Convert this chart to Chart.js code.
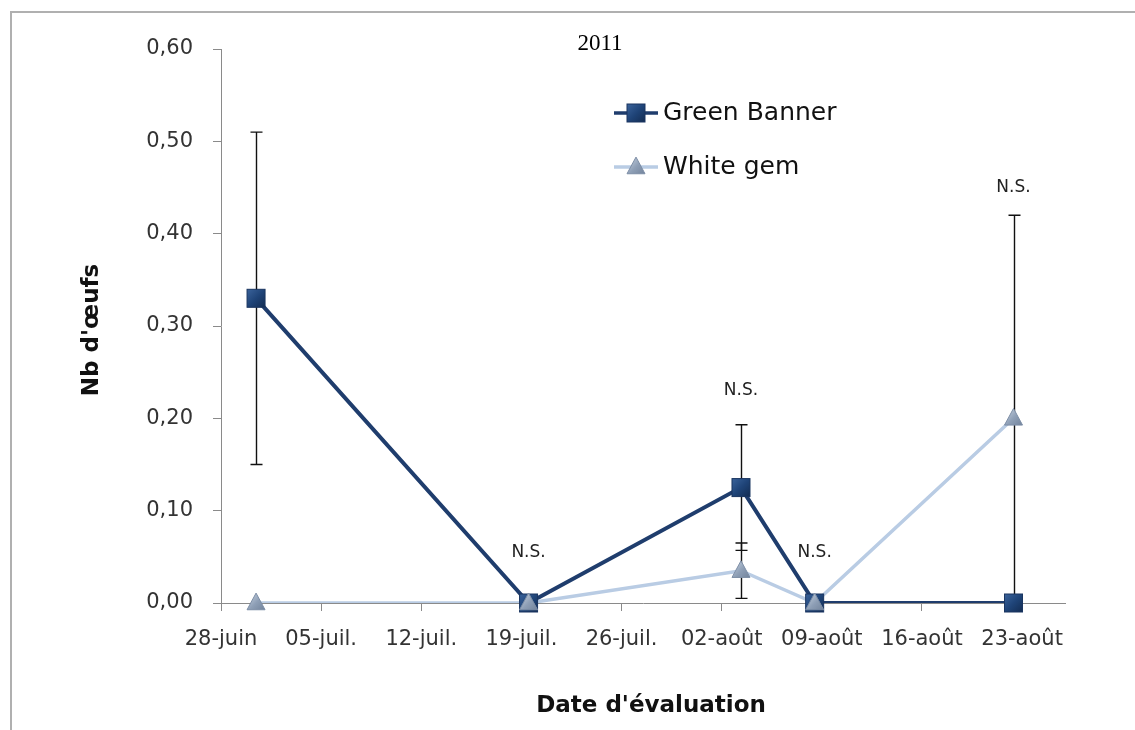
<!DOCTYPE html>
<html>
<head>
<meta charset="utf-8">
<script src="https://cdn.jsdelivr.net/npm/chart.js@4.4.0/dist/chart.umd.min.js"></script>
<style>
  html, body { margin: 0; padding: 0; background: #fff; }
  #wrap { position: relative; width: 1135px; height: 730px; overflow: hidden; }
  #frame { position: absolute; left: 10px; top: 11px; width: 1200px; height: 800px;
           border-top: 2px solid #b0b0b0; border-left: 2px solid #b0b0b0; }
  #chart { position: absolute; left: 0; top: 0; }
</style>
</head>
<body>
<div id="wrap">
  <div id="frame"></div>
  <canvas id="chart" width="1135" height="730"></canvas>
</div>
<script>
// =====================================================
// Data (x = days since 28-juin)
// =====================================================
const sampleDays = [2.45, 21.5, 36.35, 41.5, 55.4];
const greenBanner = [0.33, 0, 0.125, 0, 0];
const greenBannerErr = [0.18, 0, 0.068, 0, 0];
const whiteGem = [0, 0, 0.035, 0, 0.2];
const whiteGemErr = [0, 0, 0.03, 0, 0.22];

// "N.S." marks above some sample dates
const nsDays = [21.5, 36.35, 41.5, 55.4];
const nsValues = [0.055, 0.23, 0.055, 0.45];

// Axis ticks
const xTickDays = [0, 7, 14, 21, 28, 35, 42, 49, 56];
const xTickLabels = ['28-juin', '05-juil.', '12-juil.', '19-juil.', '26-juil.', '02-août', '09-août', '16-août', '23-août'];
const yTicks = [0, 0.1, 0.2, 0.3, 0.4, 0.5, 0.6];

const GB_COLOR = '#1f3d6d';
const WG_COLOR = '#b9cce4';
const FONT = '"DejaVu Sans", sans-serif';

// =====================================================
// Marker painters (square with a bit of shading, triangle)
// =====================================================
function drawSquare(ctx, x, y, s) {
    const g = ctx.createLinearGradient(x - s, y - s, x + s, y + s);
    g.addColorStop(0, '#3a639b');
    g.addColorStop(0.5, '#1f4478');
    g.addColorStop(1, '#132c52');
    ctx.fillStyle = g;
    ctx.fillRect(x - s, y - s, 2 * s, 2 * s);
    ctx.strokeStyle = '#1a3560';
    ctx.lineWidth = 1;
    ctx.strokeRect(x - s, y - s, 2 * s, 2 * s);
}

function drawTriangle(ctx, x, y, s) {
    const g = ctx.createLinearGradient(x - s, y - s, x + s, y + s);
    g.addColorStop(0, '#c9d4e2');
    g.addColorStop(0.5, '#8e9fb6');
    g.addColorStop(1, '#6f8098');
    ctx.fillStyle = g;
    ctx.beginPath();
    ctx.moveTo(x, y - s * 1.1);
    ctx.lineTo(x + s, y + s * 0.75);
    ctx.lineTo(x - s, y + s * 0.75);
    ctx.closePath();
    ctx.fill();
    ctx.strokeStyle = '#7d8ea6';
    ctx.lineWidth = 1;
    ctx.stroke();
}

// =====================================================
// Plugin: error bars, N.S. labels, title, axis titles, legend
// =====================================================
const decorPlugin = {
    id: 'decor',
    beforeDatasetsDraw(chart) {
        const ctx = chart.ctx;
        const xs = chart.scales.x, ys = chart.scales.y;
        const area = chart.chartArea;
        ctx.save();
        ctx.beginPath();
        ctx.rect(area.left, area.top - 2, area.right - area.left, area.bottom - area.top + 2);
        ctx.clip();
        ctx.strokeStyle = '#111';
        ctx.lineWidth = 1.4;
        const series = [[greenBanner, greenBannerErr], [whiteGem, whiteGemErr]];
        series.forEach(([vals, errs]) => {
            vals.forEach((v, i) => {
                if (!errs[i]) return;
                const px = Math.round(xs.getPixelForValue(sampleDays[i])) + 0.5;
                const top = ys.getPixelForValue(v + errs[i]);
                const bot = ys.getPixelForValue(v - errs[i]);
                ctx.beginPath();
                ctx.moveTo(px, top); ctx.lineTo(px, bot);
                ctx.moveTo(px - 6, top); ctx.lineTo(px + 6, top);
                ctx.moveTo(px - 6, bot); ctx.lineTo(px + 6, bot);
                ctx.stroke();
            });
        });
        ctx.restore();
    },
    afterDatasetsDraw(chart) {
        const ctx = chart.ctx;
        const xs = chart.scales.x, ys = chart.scales.y;
        ctx.save();
        // markers on top of lines
        greenBanner.forEach((v, i) => drawSquare(ctx, xs.getPixelForValue(sampleDays[i]), ys.getPixelForValue(v), 9));
        whiteGem.forEach((v, i) => drawTriangle(ctx, xs.getPixelForValue(sampleDays[i]), ys.getPixelForValue(v), 9));

        // N.S.
        ctx.fillStyle = '#222';
        ctx.font = '17px ' + FONT;
        ctx.textAlign = 'center';
        ctx.textBaseline = 'middle';
        nsDays.forEach((d, i) => ctx.fillText('N.S.', xs.getPixelForValue(d), ys.getPixelForValue(nsValues[i])));

        // chart title
        ctx.fillStyle = '#000';
        ctx.font = '23px "Liberation Serif", "DejaVu Serif", serif';
        ctx.fillText('2011', 600, 44);

        // axis titles
        ctx.font = 'bold 23px ' + FONT;
        ctx.fillStyle = '#111';
        ctx.fillText("Date d'évaluation", 651, 706);
        ctx.save();
        ctx.translate(92, 330);
        ctx.rotate(-Math.PI / 2);
        ctx.fillText("Nb d'œufs", 0, 0);
        ctx.restore();

        // legend
        const legend = [['Green Banner', GB_COLOR, 113, drawSquare], ['White gem', WG_COLOR, 167, drawTriangle]];
        ctx.textAlign = 'left';
        ctx.font = '25px ' + FONT;
        legend.forEach(([label, color, y, marker]) => {
            ctx.strokeStyle = color;
            ctx.lineWidth = 3.5;
            ctx.beginPath();
            ctx.moveTo(614, y); ctx.lineTo(658, y);
            ctx.stroke();
            marker(ctx, 636, y, 9);
            ctx.fillStyle = '#111';
            ctx.fillText(label, 663, y);
        });
        ctx.restore();
    }
};

// =====================================================
// Chart
// =====================================================
const ctx = document.getElementById('chart').getContext('2d');
new Chart(ctx, {
    type: 'line',
    data: {
        datasets: [
            {
                label: 'White gem',
                data: sampleDays.map((d, i) => ({ x: d, y: whiteGem[i] })),
                borderColor: WG_COLOR,
                borderWidth: 3.5,
                pointRadius: 0,
                tension: 0
            },
            {
                label: 'Green Banner',
                data: sampleDays.map((d, i) => ({ x: d, y: greenBanner[i] })),
                borderColor: GB_COLOR,
                borderWidth: 4,
                pointRadius: 0,
                tension: 0
            }
        ]
    },
    options: {
        responsive: false,
        animation: false,
        layout: { padding: { top: 49, right: 70, left: 0, bottom: 0 } },
        plugins: { legend: { display: false }, tooltip: { enabled: false }, title: { display: false } },
        scales: {
            x: {
                type: 'linear',
                min: 0,
                max: 59,
                afterBuildTicks: scale => { scale.ticks = xTickDays.map(v => ({ value: v })); },
                afterFit: scale => { scale.height = 127; },
                ticks: {
                    autoSkip: false,
                    maxRotation: 0,
                    padding: 16,
                    color: '#333',
                    font: { family: FONT, size: 21 },
                    callback: (v, i) => xTickLabels[i]
                },
                grid: { drawOnChartArea: false, drawTicks: true, tickLength: 8, color: '#8a8a8a' },
                border: { display: true, color: '#8a8a8a', width: 1 }
            },
            y: {
                min: 0,
                max: 0.6,
                afterBuildTicks: scale => { scale.ticks = yTicks.map(v => ({ value: v })); },
                afterFit: scale => { scale.width = 221; },
                ticks: {
                    padding: 20,
                    color: '#333',
                    font: { family: FONT, size: 21 },
                    callback: v => v.toFixed(2).replace('.', ',')
                },
                grid: { drawOnChartArea: false, drawTicks: true, tickLength: 8, color: '#8a8a8a' },
                border: { display: true, color: '#8a8a8a', width: 1 }
            }
        }
    },
    plugins: [decorPlugin]
});
</script>
</body>
</html>
